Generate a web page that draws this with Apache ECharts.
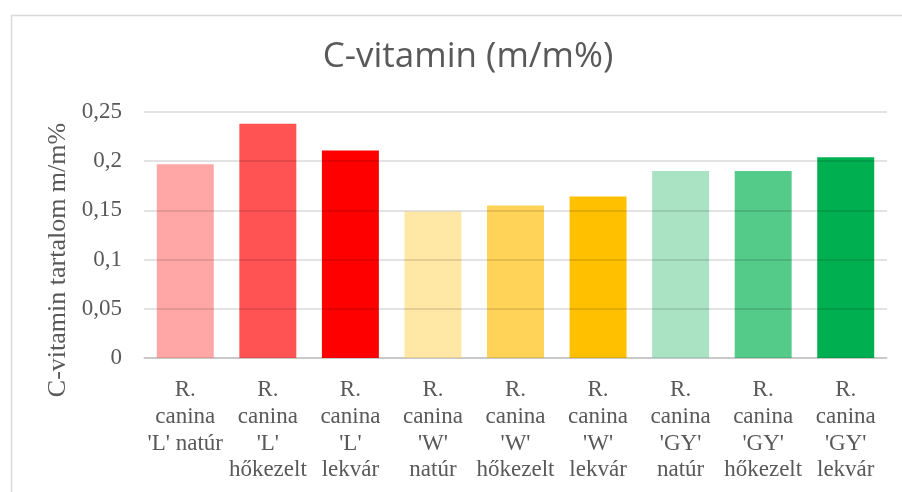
<!DOCTYPE html>
<html>
<head>
<meta charset="utf-8">
<script src="https://cdn.jsdelivr.net/npm/echarts@6/dist/echarts.min.js"></script>
<style>
  html, body { margin: 0; padding: 0; background: #fff; }
  #chart { width: 902px; height: 492px; }
</style>
</head>
<body>
<div id="chart"></div>
<script>
// kategóriák és értékek
const categories = [
  "R.\ncanina\n'L' natúr",
  "R.\ncanina\n'L'\nhőkezelt",
  "R.\ncanina\n'L'\nlekvár",
  "R.\ncanina\n'W'\nnatúr",
  "R.\ncanina\n'W'\nhőkezelt",
  "R.\ncanina\n'W'\nlekvár",
  "R.\ncanina\n'GY'\nnatúr",
  "R.\ncanina\n'GY'\nhőkezelt",
  "R.\ncanina\n'GY'\nlekvár"
];
const values = [0.197, 0.238, 0.211, 0.149, 0.155, 0.164, 0.190, 0.190, 0.204];
const barColors = ["#FFA7A7", "#FF5353", "#FF0000", "#FFE7A6", "#FFD357", "#FFC000", "#A9E3C4", "#55CB8A", "#00B050"];

const chart = echarts.init(document.getElementById("chart"));
const option = {
  animation: false,
  backgroundColor: "#fff",
  graphic: [
    {
      type: "rect",
      left: 9,
      top: 13,
      shape: { width: 900, height: 490 },
      style: { fill: "none", stroke: "#D9D9D9", lineWidth: 1.5 },
      silent: true
    }
  ],
  title: {
    text: "C-vitamin (m/m%)",
    left: 463,
    textAlign: "center",
    top: 35,
    textStyle: {
      fontFamily: "Open Sans",
      fontSize: 35,
      fontWeight: "normal",
      color: "#595959"
    }
  },
  grid: {
    left: 144,
    right: 15,
    top: 112,
    bottom: 134
  },
  xAxis: {
    type: "category",
    data: categories,
    axisLine: { lineStyle: { color: "#D9D9D9", width: 1.5 } },
    axisTick: { show: false },
    axisLabel: {
      interval: 0,
      margin: 19,
      fontFamily: "Liberation Serif",
      fontSize: 23,
      lineHeight: 26.7,
      color: "#595959"
    }
  },
  yAxis: {
    type: "value",
    min: 0,
    max: 0.25,
    interval: 0.05,
    z: 5,
    name: "C-vitamin tartalom m/m%",
    nameLocation: "middle",
    nameGap: 73,
    nameTextStyle: {
      fontFamily: "Liberation Serif",
      fontSize: 26,
      color: "#595959",
      padding: [0, 50, 0, 0]
    },
    axisLine: { show: false },
    axisTick: { show: false },
    axisLabel: {
      margin: 22,
      fontFamily: "Liberation Serif",
      fontSize: 23,
      color: "#595959",
      formatter: v => String(+v.toFixed(2)).replace(".", ",")
    },
    splitLine: { lineStyle: { color: "rgba(0,0,0,0.15)", width: 1.5 } }
  },
  series: [
    {
      type: "bar",
      barCategoryGap: "31%",
      data: values.map((v, i) => ({ value: v, itemStyle: { color: barColors[i] } }))
    }
  ]
};
chart.setOption(option);
</script>
</body>
</html>
